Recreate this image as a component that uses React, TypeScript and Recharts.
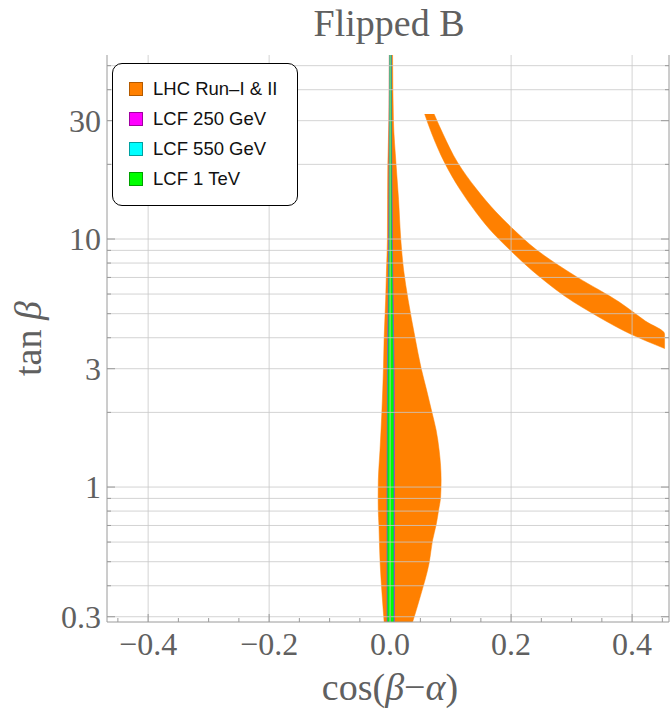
import React from "react";
import { ComposedChart, Area, XAxis, YAxis, ReferenceLine } from "recharts";

// LHC Run-I & II allowed region near alignment (for each tanβ: cos(β−α) range)
const lhcCoreT = [0.2857, 0.36, 0.494, 0.611, 0.703, 0.808, 0.911, 1.067, 1.41, 1.7, 1.99, 2.46, 3.02, 3.99, 5.68, 7.5, 9.9, 14.4, 19.9, 29.9, 55.2];
const lhcCoreLeft = [-0.0099, -0.013, -0.0165, -0.0178, -0.0185, -0.0196, -0.0198, -0.0195, -0.0167, -0.015, -0.0137, -0.0122, -0.011, -0.0099, -0.0074, -0.006, -0.0045, -0.0042, -0.0038, -0.0021, -0.0013];
const lhcCoreRight = [0.0372, 0.0496, 0.0645, 0.0702, 0.076, 0.0802, 0.0835, 0.0843, 0.081, 0.076, 0.0694, 0.0603, 0.0512, 0.0413, 0.0298, 0.0223, 0.0177, 0.014, 0.0099, 0.0055, 0.0041];

// LHC wrong-sign band
const lhcBandT = [3.62, 4.14, 4.67, 5.08, 5.57, 7.03, 9.11, 10.97, 12.85, 15.9, 20.4, 26.5, 31.9];
const lhcBandLeft = [0.4537, 0.3973, 0.3565, 0.3307, 0.3034, 0.2475, 0.1965, 0.1641, 0.1416, 0.1151, 0.0897, 0.0691, 0.0571];
const lhcBandRight = [0.4537, 0.4537, 0.422, 0.4017, 0.3788, 0.3087, 0.2404, 0.2033, 0.1751, 0.1428, 0.1113, 0.0875, 0.0727];

// LCF regions
const lcfT = [0.2857, 1, 3, 5, 10, 55.2];
const lcf250Left = [-0.005, -0.005, -0.0045, -0.0034, -0.0022, -0.0011];
const lcf250Right = [0.0072, 0.0072, 0.0066, 0.0053, 0.0037, 0.0021];
const lcf550Left = [-0.0046, -0.0046, -0.0039, -0.0029, -0.0018, -0.0009];
const lcf550Right = [0.0064, 0.0064, 0.0058, 0.0047, 0.0031, 0.0018];
const lcf1000Left = [-0.0042, -0.0042, -0.0035, -0.0025, -0.0016, -0.0008];
const lcf1000Right = [0.0058, 0.0058, 0.0052, 0.0042, 0.0028, 0.0016];

const xMajorTicks = [-0.4, -0.2, 0, 0.2, 0.4];
const xMinorTicks = [-0.45, -0.4, -0.35, -0.3, -0.25, -0.2, -0.15, -0.1, -0.05, 0, 0.05, 0.1, 0.15, 0.2, 0.25, 0.3, 0.35, 0.4, 0.45];
const yMajorTicks = [0.3, 1, 3, 10, 30];
const yGridTicks = [0.3, 0.4, 0.5, 0.6, 0.7, 0.8, 0.9, 1, 2, 3, 4, 5, 6, 7, 8, 9, 10, 20, 30, 40, 50];

const legendLabels = ["LHC Run\u2013I & II", "LCF 250 GeV", "LCF 550 GeV", "LCF 1 TeV"];
const legendFills = ["#ff8000", "#ff00ff", "#00ffff", "#00ff00"];
const legendStrokes = ["#b35a00", "#a000a0", "#00a0a0", "#00a000"];

const X_DOMAIN: [number, number] = [-0.468, 0.461];
const Y_DOMAIN: [number, number] = [0.2857, 55.2];

const keys = ["core", "band", "m250", "c550", "g1t"];
const rowsMap = new Map<number, any>();
function addSeries(key: string, ts: number[], ls: number[], rs: number[]) {
  ts.forEach((t, i) => {
    const r = rowsMap.get(t) ?? { t };
    r[key] = [ls[i], rs[i]];
    rowsMap.set(t, r);
  });
}
addSeries("core", lhcCoreT, lhcCoreLeft, lhcCoreRight);
addSeries("band", lhcBandT, lhcBandLeft, lhcBandRight);
addSeries("m250", lcfT, lcf250Left, lcf250Right);
addSeries("c550", lcfT, lcf550Left, lcf550Right);
addSeries("g1t", lcfT, lcf1000Left, lcf1000Right);
const data = Array.from(rowsMap.values())
  .sort((a, b) => a.t - b.t)
  .map((r) => {
    const o: any = { ...r };
    keys.forEach((k) => {
      if (!o[k]) o[k] = [null, null];
    });
    return o;
  });

const SERIF = '"Liberation Serif", "Times New Roman", serif';
const TEXT_GRAY = "#606060";
const FRAME = "#9a9a9a";
const GRID = "#c8c8c8";

const fmtX = (v: number) => (v < 0 ? "\u2212" : "") + Math.abs(v).toFixed(1);

const BottomTick = (p: any) => {
  const v = p.payload.value;
  const major = xMajorTicks.some((m) => Math.abs(m - v) < 1e-9);
  return (
    <g>
      <line x1={p.x} x2={p.x} y1={p.y} y2={p.y - (major ? 8 : 4)} stroke={FRAME} />
      {major && (
        <text x={p.x} y={p.y + 33} textAnchor="middle" fontFamily={SERIF} fontSize={32} fill={TEXT_GRAY}>
          {fmtX(v)}
        </text>
      )}
    </g>
  );
};
const TopTick = (p: any) => {
  const v = p.payload.value;
  const major = xMajorTicks.some((m) => Math.abs(m - v) < 1e-9);
  return <line x1={p.x} x2={p.x} y1={p.y} y2={p.y + (major ? 8 : 4)} stroke={FRAME} />;
};
const LeftTick = (p: any) => {
  const v = p.payload.value;
  const major = yMajorTicks.includes(v);
  return (
    <g>
      <line x1={p.x} x2={p.x + (major ? 8 : 4)} y1={p.y} y2={p.y} stroke={FRAME} />
      {major && (
        <text x={p.x - 6} y={p.y} dy="0.35em" textAnchor="end" fontFamily={SERIF} fontSize={32} fill={TEXT_GRAY}>
          {String(v)}
        </text>
      )}
    </g>
  );
};
const RightTick = (p: any) => {
  const v = p.payload.value;
  const major = yMajorTicks.includes(v);
  return <line x1={p.x} x2={p.x - (major ? 8 : 4)} y1={p.y} y2={p.y} stroke={FRAME} />;
};

const XLabel = (p: any) => {
  const vb = p.viewBox || { x: 0, y: 0, width: 0, height: 0 };
  return (
    <text x={vb.x + vb.width / 2 + 2} y={vb.y + 78} textAnchor="middle" fontFamily={SERIF} fontSize={38} fill={TEXT_GRAY}>
      cos(<tspan fontStyle="italic">β</tspan>−<tspan fontStyle="italic">α</tspan>)
    </text>
  );
};
const YLabel = (p: any) => {
  const vb = p.viewBox || { x: 0, y: 0, width: 0, height: 0 };
  const cx = vb.x + 41;
  const cy = vb.y + vb.height / 2 + 0;
  return (
    <text x={cx} y={cy} transform={`rotate(-90 ${cx} ${cy})`} textAnchor="middle" fontFamily={SERIF} fontSize={38} fill={TEXT_GRAY}>
      tan <tspan fontStyle="italic">β</tspan>
    </text>
  );
};

export default function App() {
  return (
    <div style={{ position: "absolute", left: 0, top: 0, width: 670, height: 713, background: "#fff" }}>
      <div
        style={{
          position: "absolute",
          top: 4,
          left: 389,
          transform: "translateX(-50%)",
          fontFamily: SERIF,
          fontSize: 38,
          lineHeight: 1,
          color: TEXT_GRAY,
          whiteSpace: "nowrap",
        }}
      >
        Flipped B
      </div>
      <ComposedChart
        width={670}
        height={713}
        data={data}
        layout="vertical"
        margin={{ top: 55, right: 0, bottom: 0, left: 0 }}
      >
        <XAxis
          xAxisId="b"
          type="number"
          domain={X_DOMAIN}
          allowDataOverflow
          ticks={xMinorTicks}
          interval={0}
          tick={(p: any) => <BottomTick {...p} />}
          tickLine={false}
          tickSize={0}
          tickMargin={0}
          axisLine={{ stroke: FRAME }}
          height={91}
          label={<XLabel />}
        />
        <XAxis
          xAxisId="t"
          orientation="top"
          type="number"
          domain={X_DOMAIN}
          allowDataOverflow
          ticks={xMinorTicks}
          interval={0}
          tick={(p: any) => <TopTick {...p} />}
          tickLine={false}
          tickSize={0}
          tickMargin={0}
          axisLine={{ stroke: FRAME }}
          height={0}
        />
        <YAxis
          yAxisId="l"
          type="number"
          dataKey="t"
          scale="log"
          reversed
          domain={Y_DOMAIN}
          allowDataOverflow
          ticks={yGridTicks}
          interval={0}
          tick={(p: any) => <LeftTick {...p} />}
          tickLine={false}
          tickSize={0}
          tickMargin={0}
          axisLine={{ stroke: FRAME }}
          width={107}
          label={<YLabel />}
        />
        <YAxis
          yAxisId="r"
          orientation="right"
          type="number"
          dataKey="t"
          scale="log"
          reversed
          domain={Y_DOMAIN}
          allowDataOverflow
          ticks={yGridTicks}
          interval={0}
          tick={(p: any) => <RightTick {...p} />}
          tickLine={false}
          tickSize={0}
          tickMargin={0}
          axisLine={{ stroke: FRAME }}
          width={1}
        />
        <Area xAxisId="b" yAxisId="l" dataKey="core" type="monotone" fill="#ff8000" fillOpacity={1} stroke="#ff8000" strokeWidth={0.5} connectNulls dot={false} activeDot={false} isAnimationActive={false} />
        <Area xAxisId="b" yAxisId="l" dataKey="band" type="monotone" fill="#ff8000" fillOpacity={1} stroke="#ff8000" strokeWidth={0.5} connectNulls dot={false} activeDot={false} isAnimationActive={false} />
        <Area xAxisId="b" yAxisId="l" dataKey="m250" type="monotone" fill="#ff00ff" fillOpacity={1} stroke="#b040c0" strokeWidth={0.8} connectNulls dot={false} activeDot={false} isAnimationActive={false} />
        <Area xAxisId="b" yAxisId="l" dataKey="c550" type="monotone" fill="#00ffff" fillOpacity={1} stroke="#40a0c0" strokeWidth={0.6} connectNulls dot={false} activeDot={false} isAnimationActive={false} />
        <Area xAxisId="b" yAxisId="l" dataKey="g1t" type="monotone" fill="#00ff00" fillOpacity={1} stroke="#2f8f5f" strokeWidth={0.6} connectNulls dot={false} activeDot={false} isAnimationActive={false} />
        {xMajorTicks.map((v) => (
          <ReferenceLine key={"gx" + v} xAxisId="b" yAxisId="l" x={v} stroke={GRID} strokeOpacity={0.8} strokeWidth={1} />
        ))}
        {yGridTicks.map((v) => (
          <ReferenceLine key={"gy" + v} xAxisId="b" yAxisId="l" y={v} stroke={GRID} strokeOpacity={0.8} strokeWidth={1} />
        ))}
      </ComposedChart>
      <div
        style={{
          position: "absolute",
          left: 112,
          top: 63,
          width: 186,
          height: 143,
          boxSizing: "border-box",
          border: "1.5px solid #000",
          borderRadius: 10,
          background: "#fff",
          fontFamily: '"Liberation Sans", Arial, sans-serif',
          fontSize: 18.5,
          color: "#111",
        }}
      >
        {legendLabels.map((lab, i) => (
          <div key={lab} style={{ position: "absolute", left: 16, top: 16 + i * 30, height: 18, display: "flex", alignItems: "center", whiteSpace: "nowrap" }}>
            <span
              style={{
                display: "inline-block",
                width: 14,
                height: 14,
                boxSizing: "border-box",
                background: legendFills[i],
                border: `1.2px solid ${legendStrokes[i]}`,
                marginRight: 10,
              }}
            />
            <span>{lab}</span>
          </div>
        ))}
      </div>
    </div>
  );
}
